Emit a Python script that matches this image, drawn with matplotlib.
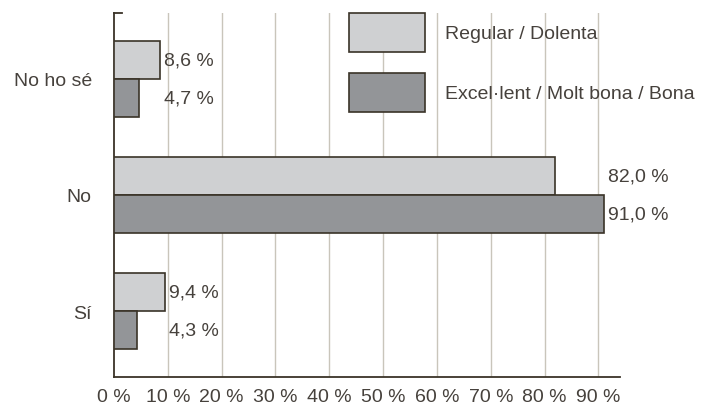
import matplotlib
matplotlib.use("Agg")
import matplotlib.pyplot as plt
from matplotlib.patches import Patch
import numpy as np

categories = ["Sí", "No", "No ho sé"]
regular_dolenta = [9.4, 82.0, 8.6]
excellent_bona = [4.3, 91.0, 4.7]
series_names = ["Regular / Dolenta", "Excel·lent / Molt bona / Bona"]
xticks = [0, 10, 20, 30, 40, 50, 60, 70, 80, 90]
xtick_labels = [f"{v} %" for v in xticks]

light = "#cfd0d2"
dark = "#939598"
edge = "#3a3328"
textc = "#46413c"
gridc = "#c9c5bb"

plt.rcParams['font.family'] = ['Liberation Sans', 'DejaVu Sans']
fs = 14

fig = plt.figure(figsize=(7.03, 4.10), dpi=100)
ax = fig.add_axes([114/703, 1-378/410, (620-114)/703, (378-14)/410])

y = np.arange(len(categories))
h = 0.33
ax.barh(y + h/2, regular_dolenta, height=h, color=light, edgecolor=edge, linewidth=1.2, zorder=3)
ax.barh(y - h/2, excellent_bona, height=h, color=dark, edgecolor=edge, linewidth=1.2, zorder=3)

for i in range(len(categories)):
    m = max(regular_dolenta[i], excellent_bona[i])
    for val, off in ((regular_dolenta[i], h/2), (excellent_bona[i], -h/2)):
        ax.annotate(f"{val:.1f} %".replace(".", ","), xy=(m, y[i] + off), xytext=(3, 0),
                    textcoords="offset points", ha="left", va="center",
                    fontsize=fs, color=textc, zorder=5)

ax.set_xlim(0, 94)
ax.set_ylim(-0.567, 2.567)
ax.set_yticks(y)
ax.set_yticklabels(categories, fontsize=fs, color=textc)
ax.set_xticks(xticks)
ax.set_xticklabels(xtick_labels, fontsize=fs, color=textc)
ax.tick_params(axis='y', length=0, pad=16)
ax.tick_params(axis='x', length=0, pad=8)

for v in xticks[1:]:
    ax.axvline(v, color=gridc, linewidth=1.0, zorder=1)

for s in ["top", "right"]:
    ax.spines[s].set_visible(False)
for s in ["left", "bottom"]:
    ax.spines[s].set_color(edge)
    ax.spines[s].set_linewidth(1.3)

# small bracket tick at top of left spine
ax.plot([0, 0.016], [1, 1], transform=ax.transAxes, color=edge, linewidth=1.3, clip_on=False)

handles = [Patch(facecolor=light, edgecolor=edge, linewidth=1.2),
           Patch(facecolor=dark, edgecolor=edge, linewidth=1.2)]
fs_px = fs * 100 / 72
hh = (39 / fs_px - 0.245) / 0.65
leg = fig.legend(handles, series_names, loc="upper left",
                 bbox_to_anchor=(349/703, 1-14/410), frameon=False,
                 borderpad=0, borderaxespad=0,
                 handlelength=76/fs_px, handleheight=hh,
                 handletextpad=20/fs_px, labelspacing=21/fs_px,
                 prop={'size': fs})
for t in leg.get_texts():
    t.set_color(textc)

fig.savefig("out.png", dpi=100)
